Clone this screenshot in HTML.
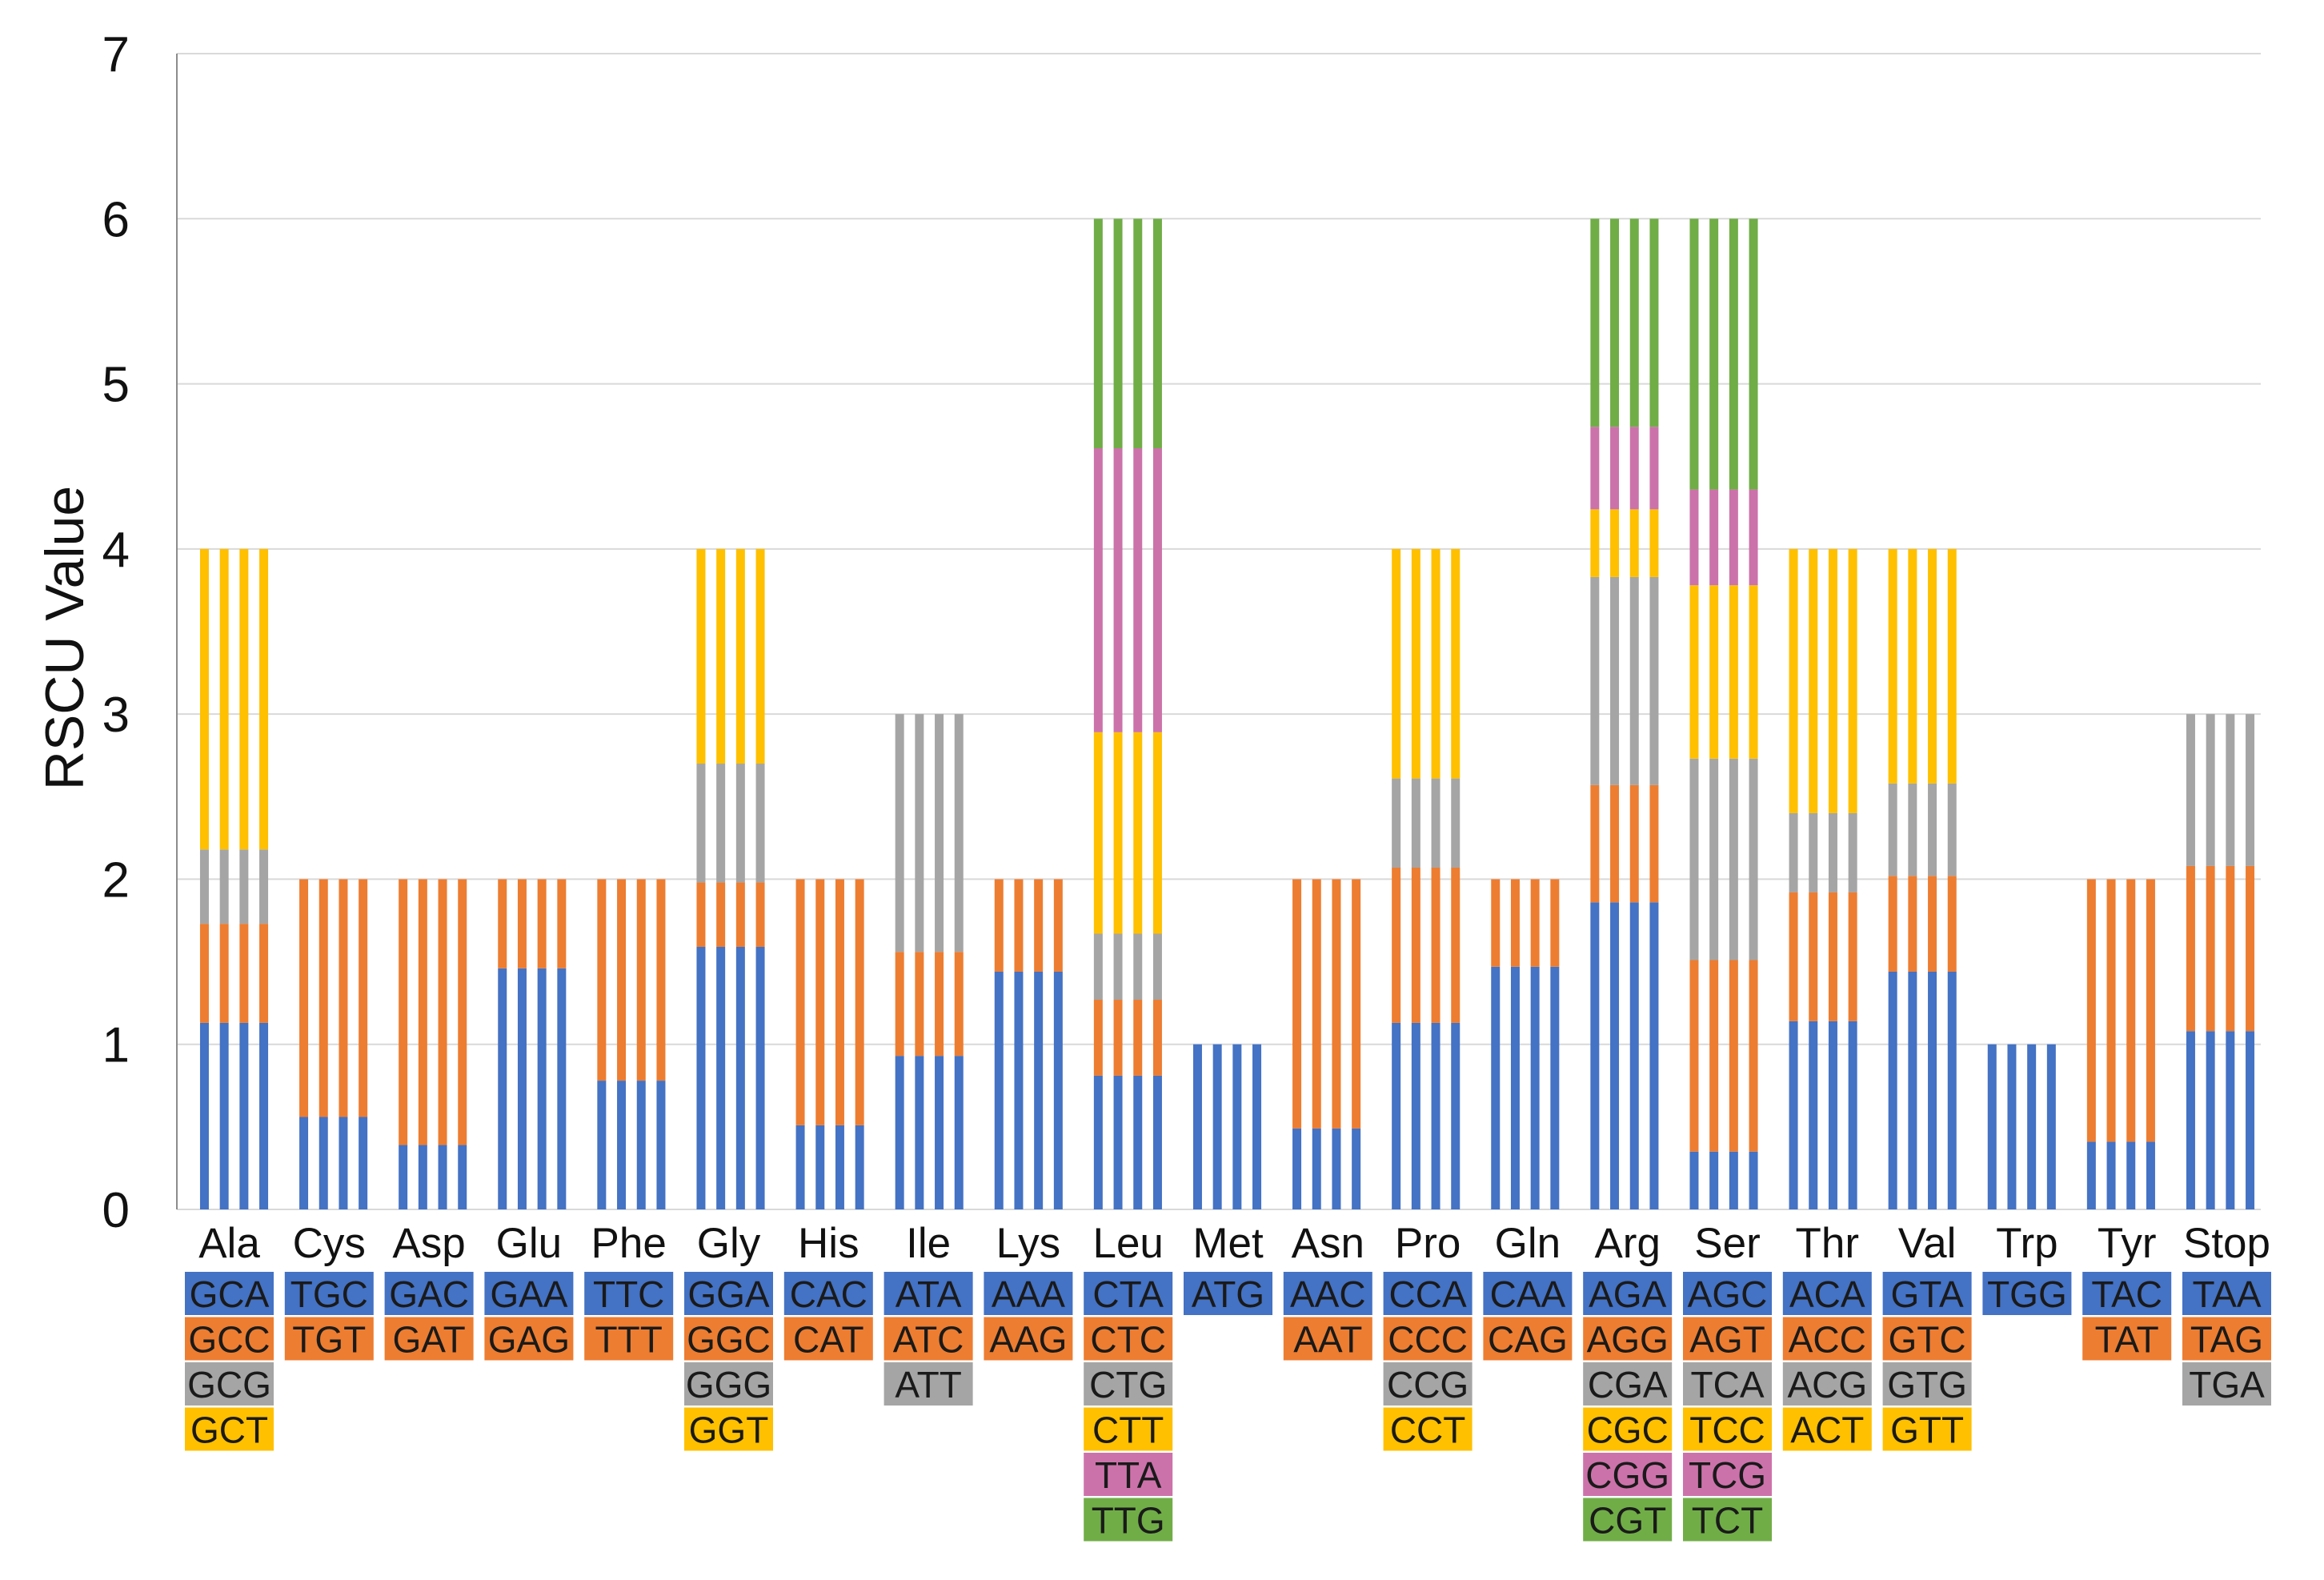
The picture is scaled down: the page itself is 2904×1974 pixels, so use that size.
<!DOCTYPE html>
<html><head><meta charset="utf-8">
<style>
html,body{margin:0;padding:0;background:#fff;}
svg{display:block;font-family:"Liberation Sans",Arial,sans-serif;}
</style></head>
<body>
<svg id="chart" width="2904" height="1974" viewBox="0 0 2904 1974" xmlns="http://www.w3.org/2000/svg">
<g id="grid"></g>
<g id="yticks"></g>
<g id="bars"></g>
<g id="xlabels"></g>
<g id="codons"></g>
<line x1="221" y1="67" x2="221" y2="1511" stroke="#8c8c8c" stroke-width="2"/>
<text transform="translate(104,797) rotate(-90)" text-anchor="middle" font-size="68" fill="#111">RSCU Value</text>
</svg>
<script>
const categories = ["Ala","Cys","Asp","Glu","Phe","Gly","His","Ile","Lys","Leu","Met","Asn","Pro","Gln","Arg","Ser","Thr","Val","Trp","Tyr","Stop"];
const codons = [
 ["GCA","GCC","GCG","GCT"],["TGC","TGT"],["GAC","GAT"],["GAA","GAG"],["TTC","TTT"],
 ["GGA","GGC","GGG","GGT"],["CAC","CAT"],["ATA","ATC","ATT"],["AAA","AAG"],
 ["CTA","CTC","CTG","CTT","TTA","TTG"],["ATG"],["AAC","AAT"],["CCA","CCC","CCG","CCT"],
 ["CAA","CAG"],["AGA","AGG","CGA","CGC","CGG","CGT"],["AGC","AGT","TCA","TCC","TCG","TCT"],
 ["ACA","ACC","ACG","ACT"],["GTA","GTC","GTG","GTT"],["TGG"],["TAC","TAT"],["TAA","TAG","TGA"]
];
const rscu = [
 [1.13,0.60,0.45,1.82],[0.56,1.44],[0.39,1.61],[1.46,0.54],[0.78,1.22],
 [1.59,0.39,0.72,1.30],[0.51,1.49],[0.93,0.63,1.44],[1.44,0.56],
 [0.81,0.46,0.40,1.22,1.72,1.39],[1.00],[0.49,1.51],[1.13,0.94,0.54,1.39],
 [1.47,0.53],[1.86,0.71,1.26,0.41,0.50,1.26],[0.35,1.16,1.22,1.05,0.58,1.64],
 [1.14,0.78,0.48,1.60],[1.44,0.58,0.56,1.42],[1.00],[0.41,1.59],[1.08,1.00,0.92]
];
const yTicks = [0,1,2,3,4,5,6,7];
const colors = ["#4472C4","#ED7D31","#A5A5A5","#FFC000","#CC72AA","#70AD47"];
const NS="http://www.w3.org/2000/svg";
const Y0=1511, UNIT=(1511-67)/7;
function y(v){return Y0-v*UNIT;}
function barCenter(i){return 292.5+124.1*i;}
function labelCenter(i){return 286.5+124.8*i;}
function mk(tag,attrs,parent){const e=document.createElementNS(NS,tag);for(const k in attrs)e.setAttribute(k,attrs[k]);parent.appendChild(e);return e;}
const grid=document.getElementById('grid'), yt=document.getElementById('yticks');
yTicks.forEach(t=>{
  if(t>0){const l=mk('line',{x1:221,x2:2825,y1:y(t),y2:y(t),stroke:'#d9d9d9','stroke-width':2},grid);
  
  }
  const tx=mk('text',{x:162,y:y(t)+22,'text-anchor':'end','font-size':62,fill:'#111'},yt);
  tx.textContent=t;
  
  
});
const base=mk('line',{x1:221,x2:2825,y1:Y0,y2:Y0,stroke:'#d9d9d9','stroke-width':2},grid);


const bars=document.getElementById('bars'), xl=document.getElementById('xlabels'), cg=document.getElementById('codons');
categories.forEach((c,i)=>{
  const vals=rscu[i];
  for(let b=0;b<4;b++){
    const cx=barCenter(i)+(b-1.5)*24.7;
    let acc=0;
    vals.forEach((v,k)=>{
      const r=mk('rect',{x:cx-5.5,y:y(acc+v),width:11,height:v*UNIT,fill:colors[k]},bars);
      
      
      acc+=v;
    });
  }
  const lc=labelCenter(i);
  const t=mk('text',{x:lc,y:1571,'text-anchor':'middle','font-size':53,fill:'#111'},xl);
  t.textContent=c;
  
  
  codons[i].forEach((cd,k)=>{
    const top=1589+k*56.5;
    const r=mk('rect',{x:lc-55.5,y:top,width:111,height:54,fill:colors[k]},cg);
    
    
    const tt=mk('text',{x:lc,y:top+44,'text-anchor':'middle','font-size':46,fill:'#1a1a1a'},cg);
    tt.textContent=cd;
    
    
  });
});
</script>
</body></html>
